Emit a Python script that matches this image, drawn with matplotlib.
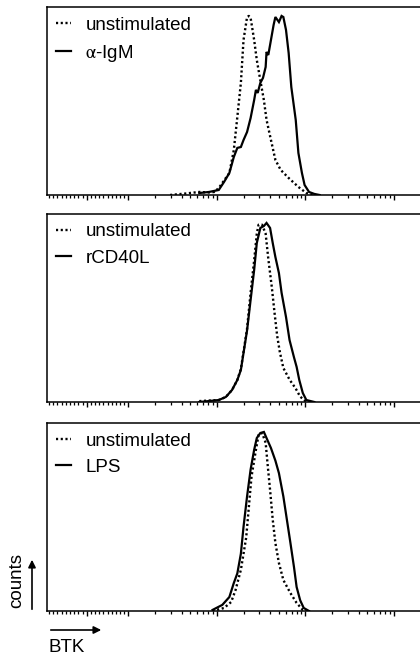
import numpy as np
import matplotlib
matplotlib.use("Agg")
import matplotlib.pyplot as plt
from matplotlib.lines import Line2D
from matplotlib.patches import FancyArrowPatch

plt.rcParams["font.family"] = ["Liberation Sans", "DejaVu Sans"]
plt.rcParams["mathtext.fontset"] = "stix"

# ---- histogram data: log10 BTK intensity vs. % of max counts ----
# panel 1: unstimulated vs anti-IgM
igm_unstim_log = [2.47, 2.64, 2.80, 2.91, 2.97, 3.02, 3.14, 3.19, 3.23, 3.27, 3.30,
                  3.34, 3.36, 3.38, 3.42, 3.45, 3.49, 3.53, 3.56, 3.61, 3.66, 3.72,
                  3.81, 3.92, 4.01, 4.10]
igm_unstim_pct = [0, 0.8, 1.7, 1.4, 1.7, 3.9, 12.3, 25, 43.6, 62.6, 86.6,
                  99.4, 100, 98.9, 86.6, 75.4, 64, 53, 42, 30.7, 19.6, 14,
                  9.5, 4.5, 1.1, 0]
igm_stim_log = [2.80, 2.91, 3.02, 3.08, 3.14, 3.19, 3.23, 3.27, 3.30, 3.34, 3.38,
                3.42, 3.44, 3.46, 3.49, 3.52, 3.55, 3.56, 3.58, 3.61, 3.64, 3.66,
                3.70, 3.73, 3.75, 3.78, 3.81, 3.84, 3.89, 3.92, 3.96, 3.99, 4.04,
                4.10, 4.16]
igm_stim_pct = [1.1, 1.7, 2.8, 7.3, 12.3, 21.2, 26.3, 26.8, 30.7, 35.2, 43,
                53, 58.7, 57, 62.6, 65.4, 71.5, 79.9, 78.2, 86.6, 95, 99.4,
                96.6, 100, 99.4, 92.2, 79.3, 60.3, 41.9, 23.5, 12.3, 5.6, 1.7,
                0.6, 0]

# panel 2: unstimulated vs rCD40L
cd40_unstim_log = [2.80, 3.02, 3.10, 3.17, 3.23, 3.27, 3.30, 3.34, 3.38, 3.42, 3.45,
                   3.47, 3.51, 3.55, 3.58, 3.62, 3.65, 3.68, 3.71, 3.75, 3.82, 3.89,
                   3.94, 4.00, 4.06]
cd40_unstim_pct = [0.5, 1.1, 2.8, 6.7, 12.3, 18.5, 28, 41, 61, 79, 94,
                   99, 99, 94, 80, 64, 50, 37, 28, 19, 12.5, 7.5,
                   3, 0.5, 0]
cd40_stim_log = [2.80, 3.02, 3.10, 3.17, 3.23, 3.27, 3.30, 3.34, 3.38, 3.42, 3.45,
                 3.49, 3.53, 3.56, 3.60, 3.63, 3.66, 3.70, 3.73, 3.78, 3.82, 3.87,
                 3.90, 3.93, 3.97, 4.01, 4.10]
cd40_stim_pct = [0, 1.1, 2.8, 6.7, 12.3, 17.9, 27.4, 40, 57, 73.7, 88.8,
                 97.2, 98.3, 100, 97.2, 88.8, 81, 72, 61, 47.5, 34.6, 25,
                 19.6, 12.3, 5, 1.1, 0]

# panel 3: unstimulated vs LPS
lps_unstim_log = [2.95, 3.08, 3.16, 3.21, 3.27, 3.33, 3.36, 3.39, 3.44, 3.47, 3.51,
                  3.55, 3.57, 3.60, 3.63, 3.66, 3.70, 3.75, 3.83, 3.90, 3.97, 4.01]
lps_unstim_pct = [0, 1.7, 5, 11.7, 23, 41, 58, 75, 90, 98.3, 99.4,
                  94, 83, 67.6, 51, 38, 26.8, 17.3, 10, 4.5, 0.6, 0]
lps_stim_log = [2.95, 3.06, 3.14, 3.19, 3.23, 3.27, 3.30, 3.34, 3.38, 3.42, 3.45,
                3.49, 3.53, 3.56, 3.61, 3.66, 3.70, 3.75, 3.79, 3.83, 3.87, 3.90,
                3.94, 3.98, 4.04]
lps_stim_pct = [0.6, 3.4, 7.8, 15.6, 21, 32, 47, 64, 79, 90, 96.6,
                99.4, 100, 96.6, 91, 84, 77, 64, 51, 38, 24.6, 13.4,
                6, 1.7, 0]

panels = [
    ("unstimulated", r"$\mathrm{\alpha}$-IgM", igm_unstim_log, igm_unstim_pct, igm_stim_log, igm_stim_pct),
    ("unstimulated", "rCD40L", cd40_unstim_log, cd40_unstim_pct, cd40_stim_log, cd40_stim_pct),
    ("unstimulated", "LPS", lps_unstim_log, lps_unstim_pct, lps_stim_log, lps_stim_pct),
]

W, H = 420, 656
fig = plt.figure(figsize=(W / 100, H / 100), dpi=100)

tops = [7, 214, 423]
ph = 188
dotted = (0, (0.9, 1.1))

major = [0, 1e2, 1e3, 1e4, 1e5]
minor = [v for v in range(-90, 100, 10) if v != 0]
for d in (1e2, 1e3, 1e4, 1e5):
    minor += [k * d for k in range(2, 10) if k * d < 262144]

for top, (lab0, lab1, xl0, y0, xl1, y1) in zip(tops, panels):
    ax = fig.add_axes([47 / W, 1 - (top + ph) / H, (431 - 47) / W, ph / H])
    ax.set_xscale("symlog", linthresh=100, linscale=0.425)
    ax.set_xlim(-95, 262144)
    ax.set_ylim(0, 105)
    ax.plot(10 ** np.array(xl0), y0, color="black", lw=1.7, linestyle=dotted,
            dash_capstyle="butt")
    ax.plot(10 ** np.array(xl1), y1, color="black", lw=1.6, solid_joinstyle="miter")
    ax.spines["right"].set_visible(False)
    for s in ("left", "top", "bottom"):
        ax.spines[s].set_linewidth(1.1)
    ax.set_yticks([])
    ax.set_xticks(major)
    ax.set_xticks(minor, minor=True)
    ax.tick_params(axis="x", which="major", direction="out", length=3.8, width=1.0,
                   labelbottom=False)
    ax.tick_params(axis="x", which="minor", direction="out", length=2.0, width=0.9)
    handles = [Line2D([], [], color="black", lw=1.7, linestyle=dotted, dash_capstyle="butt"),
               Line2D([], [], color="black", lw=1.6)]
    ax.legend(handles, [lab0, lab1], loc="upper left", frameon=False,
              fontsize=13.5, handlelength=0.8, handletextpad=0.75,
              labelspacing=0.5, borderaxespad=0.2, borderpad=0.3)

# axis captions with arrows
fig.text(17 / W, 1 - 581 / H, "counts", rotation=90, ha="center", va="center", fontsize=13.5)
fig.add_artist(FancyArrowPatch((32 / W, 1 - 612 / H), (32 / W, 1 - 557 / H),
                               transform=fig.transFigure, arrowstyle="-|>",
                               mutation_scale=11, lw=1.2, color="black"))
fig.text(48 / W, 1 - 647 / H, "BTK", ha="left", va="center", fontsize=13.5)
fig.add_artist(FancyArrowPatch((48 / W, 1 - 630 / H), (104 / W, 1 - 630 / H),
                               transform=fig.transFigure, arrowstyle="-|>",
                               mutation_scale=11, lw=1.2, color="black"))

fig.savefig("out.png", dpi=100)
